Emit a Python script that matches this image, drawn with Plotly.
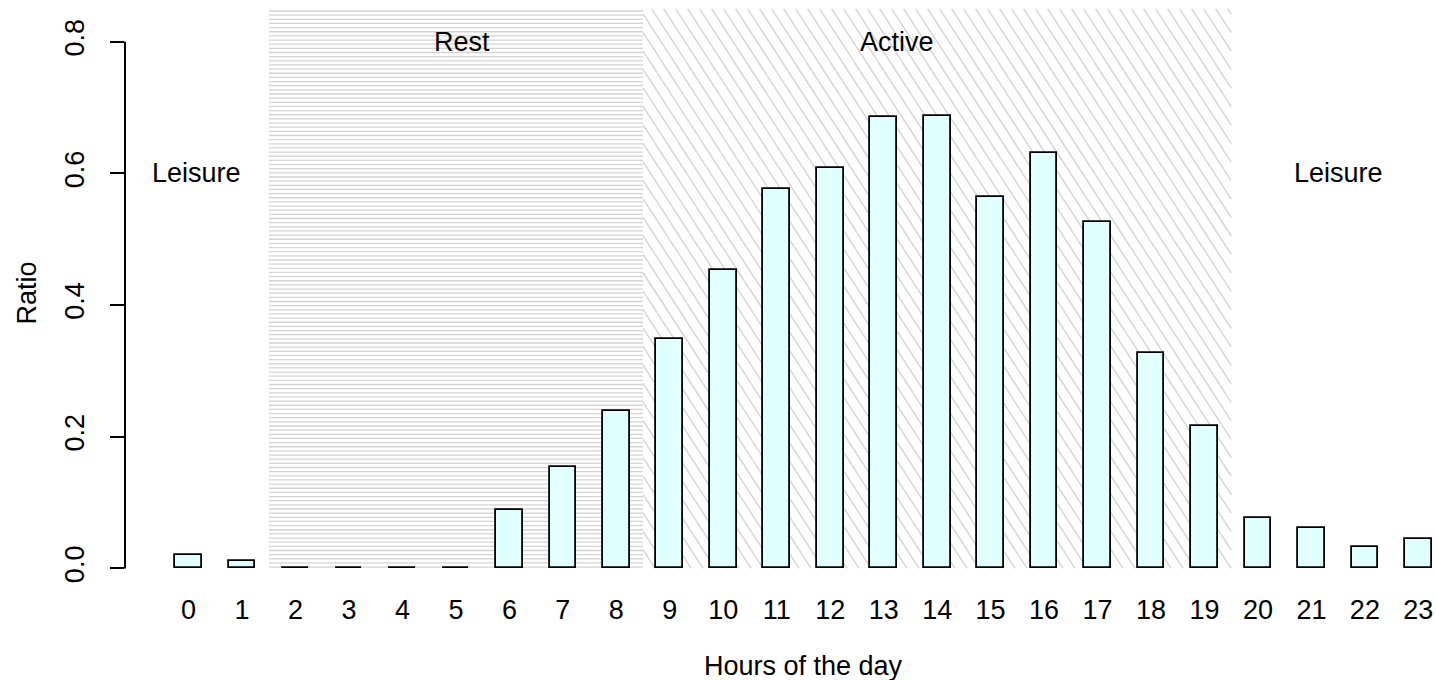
import math
import plotly.graph_objects as go

# ---------------- data ----------------
hours = list(range(24))
ratio = [0.021, 0.011, 0.001, 0.001, 0.001, 0.001, 0.088, 0.154, 0.239, 0.348,
         0.453, 0.576, 0.608, 0.686, 0.687, 0.564, 0.631, 0.526, 0.327, 0.217,
         0.076, 0.062, 0.032, 0.044]
y_ticks = [0.0, 0.2, 0.4, 0.6, 0.8]
y_tick_labels = ["0.0", "0.2", "0.4", "0.6", "0.8"]

# bar positions like R barplot(space=1): centres at 2h+1.5
bar_x = [2 * h + 1.5 for h in hours]

# phase regions (in barplot x units) and labels
rest_span = (4.5, 18.5)
active_span = (18.5, 40.5)
phase_labels = ["Leisure", "Rest", "Active", "Leisure"]
phase_label_x = [1.78, 11.73, 28.0, 44.52]
phase_label_y = [0.6, 0.8, 0.8, 0.6]

# ---------------- layout geometry ----------------
W, H = 1436, 680
ML, MR, MT, MB = 125, 0, 7, 90
XR = [-0.88, 48.16]
YR = [-0.0328, 0.8528]
px_x = (W - ML - MR) / (XR[1] - XR[0])
px_y = (H - MT - MB) / (YR[1] - YR[0])
HATCH_TOP = 0.85
FONT = "Liberation Sans, Arial, Helvetica, sans-serif"
FS = 27

# horizontal hatching for "Rest"
seg = []
step_y = 4.15 / px_y
yy = 0.002
while yy <= HATCH_TOP:
    seg.append(f"M {rest_span[0]} {yy:.5f} L {rest_span[1]} {yy:.5f}")
    yy += step_y
rest_path = " ".join(seg)

# diagonal hatching for "Active" (down-right lines)
theta = math.radians(57)
dx = math.cos(theta) / px_x
dy = -math.sin(theta) / px_y
step_x = 12.0 / px_x
xl, xr = active_span
seg = []
tmax_y = HATCH_TOP / (-dy)
x0 = xl - tmax_y * dx
while x0 <= xr:
    t0, t1 = 0.0, tmax_y
    ta, tb = (xl - x0) / dx, (xr - x0) / dx
    t0, t1 = max(t0, ta), min(t1, tb)
    if t1 > t0:
        ax_, ay_ = x0 + t0 * dx, HATCH_TOP + t0 * dy
        bx_, by_ = x0 + t1 * dx, HATCH_TOP + t1 * dy
        seg.append(f"M {ax_:.5f} {ay_:.5f} L {bx_:.5f} {by_:.5f}")
    x0 += step_x
active_path = " ".join(seg)

fig = go.Figure()
fig.add_trace(go.Bar(
    x=bar_x, y=ratio, width=1,
    marker=dict(color="#E0FFFF", line=dict(color="black", width=1.8)),
    showlegend=False, hoverinfo="skip",
))

shapes = [
    dict(type="path", path=rest_path, xref="x", yref="y", layer="below",
         line=dict(color="#d4d4d4", width=1.3)),
    dict(type="path", path=active_path, xref="x", yref="y", layer="below",
         line=dict(color="#d4d4d4", width=1.4)),
    dict(type="line", xref="paper", yref="y", x0=0, x1=0,
         y0=y_ticks[0], y1=y_ticks[-1], line=dict(color="black", width=2)),
]

annotations = []
for t, x, y in zip(phase_labels, phase_label_x, phase_label_y):
    annotations.append(dict(text=t, x=x, y=y, xref="x", yref="y", showarrow=False,
                            font=dict(family=FONT, size=FS, color="black"),
                            xanchor="center", yanchor="middle"))
annotations.append(dict(text="Hours of the day", x=24.5, y=0,
                        xref="x", yref="paper", showarrow=False,
                        font=dict(family=FONT, size=FS, color="black"),
                        xanchor="center", yanchor="middle",
                        yshift=-(666 - (H - MB))))
annotations.append(dict(text="Ratio", x=0, y=0.5, xref="paper", yref="paper",
                        showarrow=False, textangle=-90,
                        font=dict(family=FONT, size=FS, color="black"),
                        xanchor="center", yanchor="middle",
                        xshift=-(ML - 26), yshift=(298 - 293)))

fig.update_layout(
    width=W, height=H,
    margin=dict(l=ML, r=MR, t=MT, b=MB, pad=0),
    paper_bgcolor="white", plot_bgcolor="white",
    font=dict(family=FONT, size=FS, color="black"),
    shapes=shapes, annotations=annotations,
    bargap=0,
    xaxis=dict(range=XR, tickmode="array", tickvals=bar_x,
               ticktext=[str(h) for h in hours], ticks="", showline=False,
               showgrid=False, zeroline=False, ticklabelstandoff=1,
               tickfont=dict(family=FONT, size=FS, color="black")),
    yaxis=dict(range=YR, tickmode="array", tickvals=y_ticks, ticktext=y_tick_labels,
               ticks="outside", ticklen=14, tickwidth=2, tickcolor="black",
               tickangle=-90, showline=False, showgrid=False, zeroline=False,
               ticklabelstandoff=15,
               tickfont=dict(family=FONT, size=FS, color="black")),
)

fig.write_html("out.html")
